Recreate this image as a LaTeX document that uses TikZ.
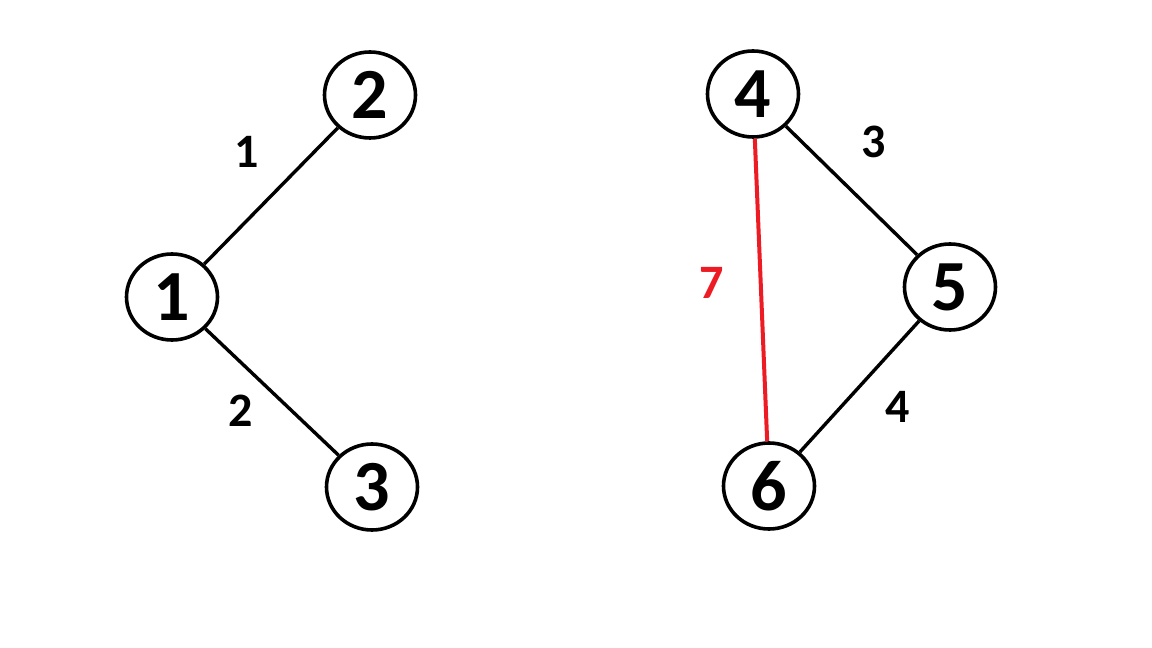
\documentclass[tikz,border=0pt]{standalone}
\usepackage{fontspec}
\setmainfont{Carlito}
\usetikzlibrary{shapes.geometric}
\definecolor{edgered}{RGB}{237,28,36}
\tikzset{
  vert/.style={draw=black, line width=3.6pt, ellipse, minimum width=91pt, minimum height=86pt, inner sep=0pt, font=\fontsize{72}{72}\selectfont\bfseries},
  edge/.style={draw=black, line width=3.4pt},
  redge/.style={draw=edgered, line width=4pt},
  wlabel/.style={inner sep=0pt, font=\fontsize{48}{48}\selectfont\bfseries}
}
\begin{document}
\begin{tikzpicture}[x=1pt,y=1pt]
\useasboundingbox (0,0) rectangle (1152,648);
\fill[white] (0,0) rectangle (1152,648);
\node[vert] (n1) at (172,351) {1};
\node[vert] (n2) at (370,553) {2};
\node[vert] (n3) at (372,161) {3};
\node[vert] (n4) at (753,554) {4};
\node[vert] (n5) at (950,361) {5};
\node[vert] (n6) at (769,162) {6};
\draw[edge] (n1) -- (n2);
\draw[edge] (n1) -- (n3);
\draw[edge] (n4) -- (n5);
\draw[edge] (n5) -- (n6);
\draw[redge] (n4) -- (n6);
\node[wlabel] (l1) at (247,496) {1};
\node[wlabel] (l2) at (241,237) {2};
\node[wlabel] (l3) at (874,506) {3};
\node[wlabel] (l4) at (898,241) {4};
\node[wlabel, text=edgered] (l7) at (712,365) {7};
\end{tikzpicture}
\end{document}
